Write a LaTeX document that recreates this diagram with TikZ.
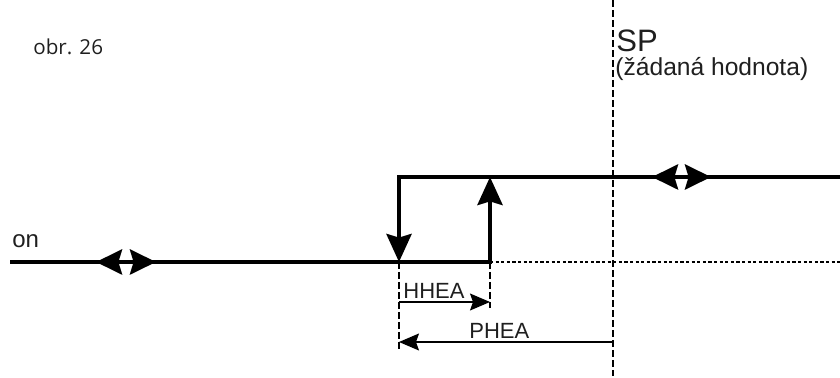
\documentclass[tikz,border=0pt]{standalone}
\usepackage{fontspec}
\setmainfont{Liberation Sans}
\newfontfamily\obrfont{Open Sans}
\usetikzlibrary{arrows.meta}

\begin{document}
\begin{tikzpicture}[x=0.5pt,y=-0.5pt,
  thickline/.style={line width=2.1pt},
  bigtip/.style={-{Stealth[length=14pt,width=12.5pt,inset=1.8pt]}},
  dbltip/.style={line width=2.1pt,-{Stealth[length=13pt,width=12.5pt,inset=1.8pt]}},
  thinarrow/.style={line width=0.6pt,-{Stealth[length=10pt,width=8.5pt,inset=1.5pt]}},
  spdash/.style={line width=0.6pt,dash pattern=on 3.5pt off 1.5pt},
  finedash/.style={line width=0.6pt,dash pattern=on 1.6pt off 1.2pt},
  lbl/.style={anchor=base west,inner sep=0pt,text=black!88}]
\useasboundingbox (0,0) rectangle (840,378);
\coordinate (A) at (10,262);
\coordinate (B) at (399,262);
\coordinate (C) at (490,262);
\coordinate (D) at (399,177);
\coordinate (E) at (490,177);
\coordinate (F) at (840,177);
\coordinate (G) at (840,262);
\coordinate (Bd) at (399,350);
\coordinate (Cd) at (490,308);
\coordinate (SPtop) at (613,0);
\coordinate (SPbot) at (613,376);
\coordinate (H1) at (399,302);
\coordinate (H2) at (490,302);
\coordinate (P1) at (613,342);
\coordinate (P2) at (399,342);
\coordinate (m1) at (126,262);
\coordinate (l1) at (96,262);
\coordinate (r1) at (156,262);
\coordinate (m2) at (681,177);
\coordinate (l2) at (652,177);
\coordinate (r2) at (711,177);
\draw [spdash] (SPtop) -- (SPbot);
\draw [finedash] (C) -- (G);
\draw [spdash] (B) -- (Bd);
\draw [spdash] (C) -- (Cd);
\draw [thickline,bigtip] (F) -- (D) -- (B);
\draw [thickline,bigtip] (A) -- (C) -- (E);
\draw [dbltip] (m1) -- (l1);
\draw [dbltip] (m1) -- (r1);
\draw [dbltip] (m2) -- (l2);
\draw [dbltip] (m2) -- (r2);
\draw [thinarrow] (H1) -- (H2);
\draw [thinarrow] (P1) -- (P2);
\node [lbl,font=\obrfont\fontsize{10.3}{12}\selectfont] (obr) at (33,55) {obr. 26};
\node [lbl,font=\fontsize{15.5}{18}\selectfont] (sp) at (616,52) {SP};
\node [lbl,font=\fontsize{12.3}{15}\selectfont] (spsub) at (615,76) {(žádaná hodnota)};
\node [lbl,font=\fontsize{12}{14}\selectfont] (on) at (12,248) {on};
\node [lbl,font=\fontsize{11}{13}\selectfont] (hhea) at (403,299) {HHEA};
\node [lbl,font=\fontsize{11}{13}\selectfont] (phea) at (469,339) {PHEA};
\end{tikzpicture}
\end{document}
